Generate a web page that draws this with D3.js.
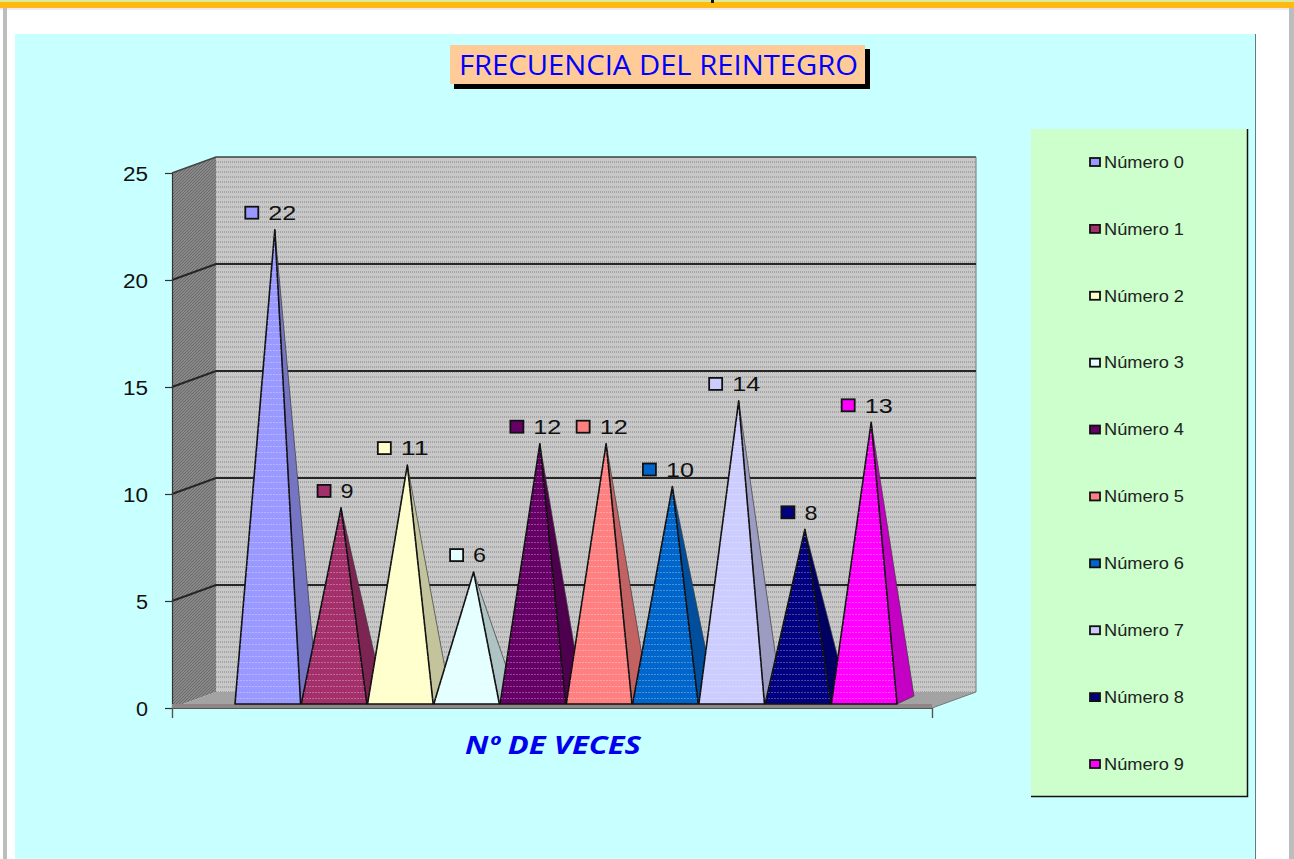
<!DOCTYPE html>
<html lang="en">
<head>
    <meta charset="UTF-8">
    <title>Frecuencia del reintegro</title>
    <script src="https://d3js.org/d3.v7.min.js"></script>
    <style>
        html, body { margin: 0; padding: 0; background: #fff; overflow: hidden; }
        svg { display: block; }
        text { font-family: "Liberation Sans", Arial, sans-serif; fill: #111; }
    </style>
</head>
<body>
    <div id="chart"></div>
    <script>
        const chartTitle = "FRECUENCIA DEL REINTEGRO";
        const axisTitle = "Nº DE VECES";
        const categories = ["Número 0", "Número 1", "Número 2", "Número 3", "Número 4", "Número 5", "Número 6", "Número 7", "Número 8", "Número 9"];
        const values = [22, 9, 11, 6, 12, 12, 10, 14, 8, 13];
        const yTicks = [0, 5, 10, 15, 20, 25];
        const frontColors = ["#9999ff", "#a3306b", "#ffffcc", "#e4ffff", "#660066", "#ff8080", "#0066cc", "#ccccff", "#000080", "#ff00ff"];

        const width = 1294, height = 859;
        const svg = d3.select("#chart").append("svg").attr("width", width).attr("height", height);
        const defs = svg.append("defs");

        // raster-like textures, the original is a scaled down screenshot
        function dotPattern(id, w, h, base, dot, opacity, dots) {
            const p = defs.append("pattern").attr("id", id)
                .attr("width", w).attr("height", h).attr("patternUnits", "userSpaceOnUse");
            if (base) p.append("rect").attr("width", w).attr("height", h).attr("fill", base);
            dots.forEach(d => p.append("rect").attr("x", d[0]).attr("y", d[1])
                .attr("width", d[2]).attr("height", d[3]).attr("fill", dot).attr("opacity", opacity));
        }
        dotPattern("wallTex", 2, 5, "#c8c8c8", "#9c9c9c", 0.8, [[0, 1, 1, 2]]);
        dotPattern("sideTex", 3, 3, "#898989", "#626262", 0.8, [[0, 0, 1, 1], [2, 1, 1, 1], [1, 2, 1, 1]]);
        dotPattern("barTex", 3, 6, null, "#ffffff", 0.28, [[0, 2, 2, 1]]);

        // page furniture
        svg.append("rect").attr("width", width).attr("height", 2).attr("fill", "#d8ec9a");
        svg.append("rect").attr("y", 2).attr("width", width).attr("height", 6).attr("fill", "#ffb910");
        svg.append("rect").attr("y", 8).attr("width", width).attr("height", 2).attr("fill", "#ececec");
        svg.append("rect").attr("x", 711).attr("width", 3).attr("height", 3).attr("fill", "#111");
        svg.append("rect").attr("x", 3).attr("y", 8).attr("width", 4).attr("height", height).attr("fill", "#bdbdbd");
        svg.append("rect").attr("x", 1289).attr("y", 8).attr("width", 5).attr("height", height).attr("fill", "#bdbdbd");

        // cyan panel
        svg.append("rect").attr("x", 15).attr("y", 34).attr("width", 1240).attr("height", 825).attr("fill", "#c8ffff");
        svg.append("line").attr("x1", 1255.5).attr("x2", 1255.5).attr("y1", 34).attr("y2", height)
            .attr("stroke", "#5f7f7f").attr("stroke-width", 1);

        // title box
        svg.append("rect").attr("x", 454).attr("y", 49).attr("width", 416).attr("height", 40).attr("fill", "#000");
        svg.append("rect").attr("x", 450).attr("y", 45).attr("width", 415).attr("height", 39).attr("fill", "#ffcc99");
        svg.append("text").attr("x", 459).attr("y", 75)
            .attr("textLength", 399).attr("lengthAdjust", "spacingAndGlyphs")
            .style("font-family", "'Open Sans', sans-serif").style("font-size", "27px").style("fill", "#0000ff")
            .text(chartTitle);

        // scales: the plot box has a front plane, a back wall and a depth between them
        const depthX = 44, depthY = 16;
        const yFront = d3.scaleLinear().domain([0, 25]).range([708, 173]);
        const yBack = d3.scaleLinear().domain([0, 25]).range([708 - depthY, 173 - depthY]);
        const yMid = d3.scaleLinear().domain([0, 25]).range([700.5, 165.5]);
        const xFront = d3.scaleLinear().domain([0, 1]).range([172, 932]);
        const xBars = d3.scaleBand().domain(categories).range([235, 897]).paddingInner(0.01);
        const color = d3.scaleOrdinal().domain(categories).range(frontColors);

        const plot = svg.append("g");
        const x0 = xFront(0), x1 = xFront(1);
        const poly = pts => pts.map(p => p.join(",")).join(" ");

        // back wall, side wall, floor
        plot.append("polygon").attr("fill", "url(#wallTex)")
            .attr("points", poly([[x0 + depthX, yBack(25)], [x1 + depthX, yBack(25)], [x1 + depthX, yBack(0)], [x0 + depthX, yBack(0)]]));
        plot.append("polygon").attr("fill", "url(#sideTex)")
            .attr("points", poly([[x0, yFront(25)], [x0 + depthX, yBack(25)], [x0 + depthX, yBack(0)], [x0, yFront(0)]]));
        plot.append("polygon").attr("fill", "#a3a3a3")
            .attr("points", poly([[x0, yFront(0)], [x0 + depthX, yBack(0)], [x1 + depthX, yBack(0)], [x1, yFront(0)]]));
        plot.append("polyline").attr("fill", "none").attr("stroke", "#444").attr("stroke-width", 1.5)
            .attr("points", poly([[x0, yFront(25)], [x0 + depthX, yBack(25)], [x1 + depthX, yBack(25)]]));
        plot.append("polyline").attr("fill", "none").attr("stroke", "#777").attr("stroke-width", 1)
            .attr("points", poly([[x1 + depthX, yBack(25)], [x1 + depthX, yBack(0)], [x1, yFront(0)]]));

        // gridlines run over both walls
        yTicks.filter(d => d > 0 && d < 25).forEach(d => {
            plot.append("polyline").attr("fill", "none").attr("stroke", "#262626").attr("stroke-width", 1.9)
                .attr("points", poly([[x0, yFront(d)], [x0 + depthX, yBack(d)], [x1 + depthX, yBack(d)]]));
        });

        // axes
        const yAxis = d3.axisLeft(yFront).tickValues(yTicks).tickSize(7).tickFormat(d3.format("d"));
        const yAxisG = plot.append("g").attr("transform", `translate(${x0},0)`).call(yAxis);
        yAxisG.selectAll("path,line").attr("stroke", "#333").attr("stroke-width", 1.2);
        yAxisG.selectAll("text").attr("x", -24).attr("dy", "0.36em")
            .attr("textLength", d => d >= 10 ? 25 : 12).attr("lengthAdjust", "spacingAndGlyphs")
            .style("font-size", "20px").style("font-family", "'Liberation Sans', sans-serif").style("fill", "#111");

        const xAxis = d3.axisBottom(xFront).tickValues([0, 1]).tickSize(10).tickFormat("");
        const xAxisG = plot.append("g").attr("transform", `translate(0,${yFront(0)})`).call(xAxis);
        xAxisG.selectAll("path,line").attr("stroke", "#555").attr("stroke-width", 1.2);

        // strip along the front of the floor
        const baseY = yFront(0) - 4;
        plot.append("rect").attr("x", x0).attr("y", baseY).attr("width", x1 - x0).attr("height", 4).attr("fill", "#8f8686");

        // pyramids, drawn left to right so each one covers the previous side face
        const bars = plot.selectAll("g.bar").data(categories).enter().append("g").attr("class", "bar");
        const apexX = d => xBars(d) + xBars.bandwidth() / 2 + 7;
        const apexY = (d, i) => yMid(values[i]);
        const sidePts = (d, i) => {
            const r = xBars(d) + xBars.bandwidth();
            return poly([[r, baseY], [r + 17, baseY - 8], [apexX(d), apexY(d, i)]]);
        };
        const frontPts = (d, i) => poly([[xBars(d), baseY], [xBars(d) + xBars.bandwidth(), baseY], [apexX(d), apexY(d, i)]]);

        bars.append("polygon").attr("points", sidePts)
            .attr("fill", d => d3.color(color(d)).darker(0.75))
            .attr("stroke", "#3a3a3a").attr("stroke-width", 0.7).attr("stroke-linejoin", "round");
        bars.append("polygon").attr("points", frontPts)
            .attr("fill", d => color(d))
            .attr("stroke", "#111").attr("stroke-width", 1.6).attr("stroke-linejoin", "round");
        bars.append("polygon").attr("points", frontPts).attr("fill", "url(#barTex)");

        // value labels with their legend key
        const labels = plot.selectAll("g.label").data(categories).enter().append("g").attr("class", "label")
            .attr("transform", (d, i) => {
                const off = values[i] >= 10 ? 23 : 17;
                return `translate(${apexX(d) - off},${apexY(d, i) - 17})`;
            });
        labels.append("rect").attr("x", -6.5).attr("y", -6).attr("width", 13).attr("height", 12)
            .attr("fill", d => color(d)).attr("stroke", "#111").attr("stroke-width", 1.8);
        labels.append("text").attr("x", 16.5).attr("dy", "0.36em")
            .attr("textLength", (d, i) => values[i] >= 10 ? 28 : 13).attr("lengthAdjust", "spacingAndGlyphs")
            .style("font-size", "20px")
            .text((d, i) => values[i]);

        // axis caption
        plot.append("text").attr("x", 465).attr("y", 754)
            .attr("textLength", 176).attr("lengthAdjust", "spacingAndGlyphs")
            .style("font-family", "'Open Sans', sans-serif").style("font-size", "25px")
            .style("font-weight", "700").style("font-style", "italic").style("fill", "#0000ee")
            .text(axisTitle);

        // legend
        const legend = svg.append("g");
        legend.append("rect").attr("x", 1031).attr("y", 129).attr("width", 217).attr("height", 668).attr("fill", "#ccffcc");
        legend.append("polyline").attr("fill", "none").attr("stroke", "#111").attr("stroke-width", 1.5)
            .attr("points", poly([[1247.5, 129], [1247.5, 796.5], [1031, 796.5]]));
        const legendY = d3.scalePoint().domain(categories).range([162, 764]);
        const rows = legend.selectAll("g.row").data(categories).enter().append("g").attr("class", "row")
            .attr("transform", d => `translate(1090,${legendY(d)})`);
        rows.append("rect").attr("x", 0).attr("y", -4).attr("width", 10).attr("height", 8)
            .attr("fill", d => color(d)).attr("stroke", "#111").attr("stroke-width", 1.8);
        rows.append("text").attr("x", 14).attr("dy", "0.36em")
            .attr("textLength", 80).attr("lengthAdjust", "spacingAndGlyphs")
            .style("font-size", "16px").style("fill", "#222")
            .text(d => d);
    </script>
</body>
</html>
